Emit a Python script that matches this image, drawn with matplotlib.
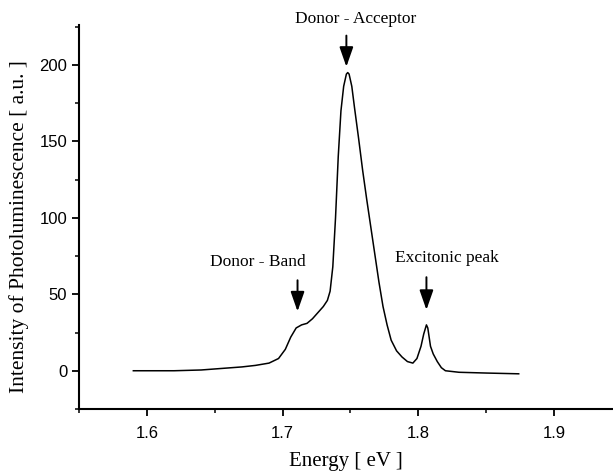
import matplotlib
matplotlib.use('Agg')
import matplotlib.pyplot as plt
from matplotlib.ticker import MultipleLocator

# photoluminescence spectrum
energy = [1.590, 1.620, 1.640, 1.655, 1.670, 1.680, 1.690, 1.697, 1.702, 1.706,
          1.710, 1.714, 1.718, 1.722, 1.726, 1.730, 1.733, 1.735, 1.737, 1.739,
          1.741, 1.743, 1.745, 1.747, 1.748, 1.749, 1.751, 1.753, 1.756, 1.759,
          1.762, 1.765, 1.768, 1.771, 1.774, 1.777, 1.780, 1.784, 1.788, 1.792,
          1.796, 1.799, 1.802, 1.804, 1.806, 1.807, 1.809, 1.811, 1.814, 1.817,
          1.820, 1.830, 1.850, 1.874]
intensity = [0, 0, 0.5, 1.5, 2.5, 3.5, 5, 8, 14, 22,
             28, 30, 31, 34, 38, 42, 46, 52, 68, 100,
             140, 170, 186, 194, 195, 194, 186, 172, 152, 131,
             112, 94, 76, 58, 42, 30, 20, 13, 9, 6,
             5, 8, 16, 24, 30, 28, 16, 11, 6, 2,
             0, -1, -1.5, -2]

# labels: (text, arrow x, arrow top, arrow tip, text x, text y)
peak_names = ['Donor - Band', 'Donor - Acceptor', 'Excitonic peak']
peak_x = [1.711, 1.747, 1.806]
arrow_top = [61, 221, 63]
arrow_tip = [37, 197, 38]
label_x = [1.682, 1.754, 1.821]
label_y = [71, 230, 74]

serif = ['Liberation Serif', 'DejaVu Serif']
sans = ['Liberation Sans Narrow', 'Liberation Sans', 'DejaVu Sans']

fig = plt.figure(figsize=(6.13, 4.75), dpi=100)
ax = fig.add_axes([0.129, 0.139, 0.871, 0.808])

ax.plot(energy, intensity, color='black', lw=1.1)

for name, px, top, tip, tx, ty in zip(peak_names, peak_x, arrow_top, arrow_tip, label_x, label_y):
    ax.annotate('', xy=(px, tip), xytext=(px, top),
                arrowprops=dict(arrowstyle='-|>,head_length=1.0,head_width=0.35',
                                mutation_scale=12, color='black', lw=1.4))
    ax.text(tx, ty, name, ha='center', va='center', fontsize=12.5, family=serif)

ax.set_xlim(1.55, 1.9435)
ax.set_ylim(-25, 226)
ax.xaxis.set_major_locator(MultipleLocator(0.1))
ax.xaxis.set_minor_locator(MultipleLocator(0.05))
ax.yaxis.set_major_locator(MultipleLocator(50))
ax.yaxis.set_minor_locator(MultipleLocator(25))

for s in ['top', 'right']:
    ax.spines[s].set_visible(False)
for s in ['left', 'bottom']:
    ax.spines[s].set_linewidth(1.5)

ax.tick_params(which='major', length=5, width=1.3, direction='out', labelsize=12)
ax.tick_params(axis='x', which='major', pad=7)
ax.tick_params(which='minor', length=3, width=1.1, direction='out')
for lab in ax.get_xticklabels() + ax.get_yticklabels():
    lab.set_family(sans)

ax.set_xlabel('Energy [ eV ]', fontsize=15, family=serif, labelpad=8)
ax.set_ylabel('Intensity of Photoluminescence [ a.u. ]', fontsize=15.5, family=serif)
ax.yaxis.set_label_coords(-0.093, 0.475)

fig.savefig('out.png', dpi=100)
